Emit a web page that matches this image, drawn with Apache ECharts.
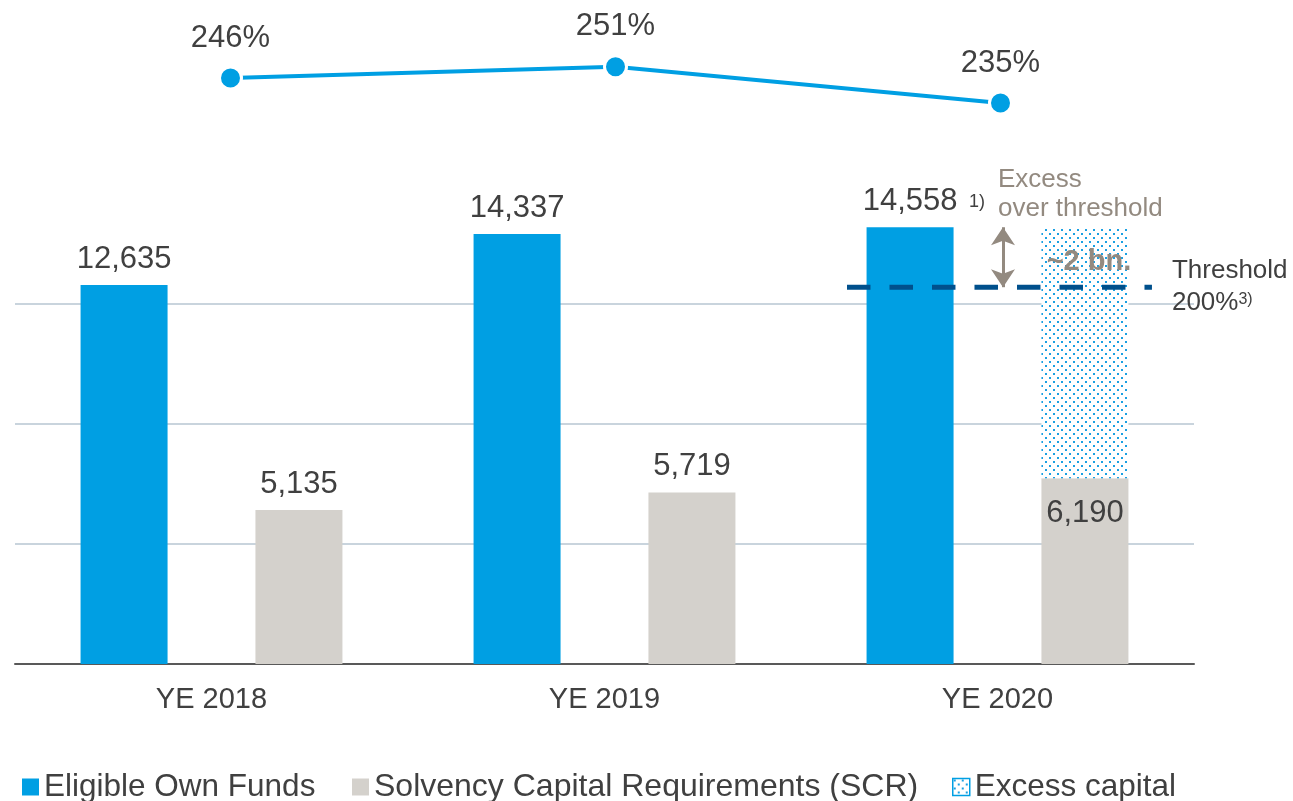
<!DOCTYPE html>
<html><head><meta charset="utf-8">
<script src="https://cdn.jsdelivr.net/npm/echarts@6/dist/echarts.min.js"></script>
<style>html,body{margin:0;padding:0;background:#fff}#c{width:1293px;height:801px}</style>
</head><body><div id="c"></div>
<script>
// ---- data ----
const categories = ['YE 2018', 'YE 2019', 'YE 2020'];
const ownFunds = [12635, 14337, 14558];
const scr = [5135, 5719, 6190];
const excessCapital = [null, null, 8368];
const solvencyRatio = [246, 251, 235];
const thresholdValue = 12560;
const thresholdSpan = [1.617, 2.393];   // extent in category units (hidden value axis)
const arrowX = 2.014;

// ---- style ----
const FONT = '"Liberation Sans", Arial, sans-serif';
const TXT = '#404040';
const BLUE = '#009fe3';
const GRAY = '#d4d1cc';
const TAUPE = '#938a80';
const DARKBLUE = '#00508c';

const pc = document.createElement('canvas');
pc.width = 8; pc.height = 8;
const g = pc.getContext('2d');
g.fillStyle = '#ffffff'; g.fillRect(0, 0, 8, 8);
g.fillStyle = '#1aa0e2';
g.fillRect(1, 1, 2, 2); g.fillRect(5, 5, 2, 2);
const dotPattern = { image: pc, repeat: 'repeat' };

const fmt = v => Number(v).toLocaleString('en-US');

const chart = echarts.init(document.getElementById('c'), null, { renderer: 'canvas' });
chart.setOption({
  animation: false,
  backgroundColor: '#fff',
  textStyle: { fontFamily: FONT },
  grid: [
    { left: 15, right: 99, top: 184, bottom: 137 },
    { left: 38, width: 1155, top: 57.6, height: 56.8 }
  ],
  xAxis: [
    { type: 'category', gridIndex: 0, data: categories,
      axisTick: { show: false },
      axisLine: { lineStyle: { color: '#595959', width: 2 } },
      axisLabel: { fontSize: 29, color: TXT, margin: 21, fontFamily: FONT } },
    { type: 'value', gridIndex: 0, min: -0.5, max: 2.5, show: false },
    { type: 'category', gridIndex: 1, data: categories, show: false }
  ],
  yAxis: [
    { type: 'value', gridIndex: 0, min: 0, max: 16000, interval: 4000,
      axisLabel: { show: false }, axisLine: { show: false }, axisTick: { show: false },
      splitLine: { show: true, showMinLine: false, showMaxLine: false,
        lineStyle: { color: '#c9d4dd', width: 2 } } },
    { type: 'value', gridIndex: 1, min: 230, max: 255, show: false }
  ],
  legend: [
    { left: 17, top: 766, itemWidth: 17, itemHeight: 17, itemGap: 0,
      textStyle: { fontSize: 31.5, color: TXT, fontFamily: FONT },
      data: [{ name: 'Eligible Own Funds', icon: 'rect' }] },
    { left: 347, top: 766, itemWidth: 17, itemHeight: 17, itemGap: 0,
      textStyle: { fontSize: 32, color: TXT, fontFamily: FONT },
      data: [{ name: 'Solvency Capital Requirements (SCR)', icon: 'rect' }] },
    { left: 947, top: 766, itemWidth: 17, itemHeight: 17, itemGap: 0,
      textStyle: { fontSize: 31.5, color: TXT, fontFamily: FONT },
      data: [{ name: 'Excess capital', icon: 'rect',
        itemStyle: { borderColor: BLUE, borderWidth: 1.5 } }] }
  ],
  series: [
    { name: 'Eligible Own Funds', type: 'bar', xAxisIndex: 0, yAxisIndex: 0,
      data: ownFunds, barWidth: 87, barGap: '101%',
      itemStyle: { color: BLUE },
      label: { show: true, position: 'top', distance: 10, fontSize: 31, color: TXT,
        fontFamily: FONT, formatter: p => fmt(p.value) } },
    { name: 'Solvency Capital Requirements (SCR)', type: 'bar', stack: 'scr',
      xAxisIndex: 0, yAxisIndex: 0,
      data: scr.map((v, i) => excessCapital[i] != null
        ? { value: v, label: { position: 'insideTop', distance: 20 } } : v),
      barWidth: 87, itemStyle: { color: GRAY },
      label: { show: true, position: 'top', distance: 10, fontSize: 31, color: TXT,
        fontFamily: FONT, formatter: p => fmt(p.value) } },
    { name: 'Excess capital', type: 'bar', stack: 'scr', xAxisIndex: 0, yAxisIndex: 0,
      data: excessCapital, barWidth: 87,
      itemStyle: { color: dotPattern },
      label: { show: true, position: 'insideTop', distance: 20, offset: [4, 0],
        fontSize: 29, fontWeight: 'bold', color: TAUPE, fontFamily: FONT,
        formatter: () => '~2 bn.' } },
    { name: 'Threshold', type: 'line', xAxisIndex: 1, yAxisIndex: 0, z: 5,
      data: thresholdSpan.map(x => [x, thresholdValue]),
      symbol: 'none', silent: true,
      lineStyle: { color: DARKBLUE, width: 5, type: [23.5, 19] },
      endLabel: { show: true, distance: 20,
        formatter: '{t|Threshold}\n{t|200%}{s|3)}',
        rich: {
          t: { fontSize: 26, lineHeight: 32, color: TXT, fontFamily: FONT },
          s: { fontSize: 16, lineHeight: 16, color: TXT, fontFamily: FONT,
               verticalAlign: 'top', padding: [4, 0, 0, 0] }
        } },
      markLine: { silent: true, symbol: ['arrow', 'arrow'], symbolSize: 18,
        lineStyle: { color: TAUPE, width: 3, type: 'solid' },
        label: { show: false },
        data: [[ { coord: [arrowX, ownFunds[2]] }, { coord: [arrowX, thresholdValue] } ]] } },
    { name: 'Solvency ratio', type: 'line', xAxisIndex: 2, yAxisIndex: 1,
      data: solvencyRatio, symbol: 'circle', symbolSize: 22,
      itemStyle: { color: BLUE, borderColor: '#fff', borderWidth: 3 },
      lineStyle: { color: BLUE, width: 4 },
      label: { show: true, position: 'top', distance: 12, fontSize: 31, color: TXT,
        fontFamily: FONT, formatter: p => p.value + '%' } }
  ],
  graphic: [
    { type: 'text', left: 998, top: 165,
      style: { text: 'Excess\nover threshold', fontSize: 26, lineHeight: 29,
        fill: TAUPE, fontFamily: FONT } },
    { type: 'text', left: 969, top: 193,
      style: { text: '1)', fontSize: 18, fill: TXT, fontFamily: FONT } }
  ]
});
</script>
</body></html>
